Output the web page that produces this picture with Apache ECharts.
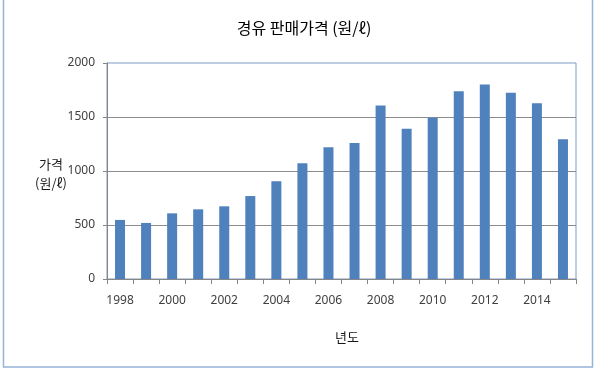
<!DOCTYPE html>
<html>
<head>
<meta charset="utf-8">
<script src="https://cdn.jsdelivr.net/npm/echarts@6/dist/echarts.min.js"></script>
<style>
html, body { margin: 0; padding: 0; background: #fff; }
#container { width: 597px; height: 380px; }
</style>
</head>
<body>
<div id="container"></div>
<script>
// 경유 판매가격 (원/ℓ), 연도별
var years = ['1998', '1999', '2000', '2001', '2002', '2003', '2004', '2005', '2006',
    '2007', '2008', '2009', '2010', '2011', '2012', '2013', '2014', '2015'];
var prices = [547, 519, 608, 645, 673, 768, 906, 1072, 1220,
    1259, 1607, 1392, 1493, 1739, 1800, 1724, 1628, 1293];
var yTicks = [0, 500, 1000, 1500, 2000];

var labelFont = 'Noto Sans, "Noto Sans CJK KR", sans-serif';
var krFont = '"Noto Sans CJK KR", sans-serif';

var myChart = echarts.init(document.getElementById('container'));
myChart.setOption({
    animation: false,
    title: [
        {
            text: '경유 판매가격 (원/ℓ)',
            left: 299,
            top: 15,
            textAlign: 'center',
            textStyle: { fontFamily: krFont, fontSize: 16, fontWeight: 'normal', color: '#000' }
        },
        {
            text: '가격\n(원/ℓ)',
            left: 46,
            top: 150,
            textAlign: 'center',
            textStyle: { fontFamily: krFont, fontSize: 13, fontWeight: 'normal', color: '#1a1a1a', lineHeight: 19 }
        },
        {
            text: '년도',
            left: 342,
            top: 326,
            textAlign: 'center',
            textStyle: { fontFamily: krFont, fontSize: 13, fontWeight: 'normal', color: '#1a1a1a' }
        }
    ],
    graphic: [
        {
            type: 'rect',
            shape: { x: 3.5, y: -5, width: 589, height: 372 },
            style: { fill: 'none', stroke: '#95b3d7', lineWidth: 1.5 },
            silent: true
        }
    ],
    grid: {
        left: 107,
        right: 21,
        top: 63,
        bottom: 101,
        show: true,
        borderColor: '#7f9bc4',
        borderWidth: 1
    },
    xAxis: {
        type: 'category',
        data: years,
        axisLine: { lineStyle: { color: '#868686' } },
        axisTick: { show: true, interval: 0, length: 5, lineStyle: { color: '#868686' } },
        axisLabel: { interval: 1, margin: 16, fontFamily: labelFont, fontSize: 12, color: '#404040' }
    },
    yAxis: {
        type: 'value',
        min: yTicks[0],
        max: yTicks[yTicks.length - 1],
        interval: 500,
        axisLine: { show: true, lineStyle: { color: '#868686' } },
        axisTick: { show: true, length: 4, lineStyle: { color: '#868686' } },
        axisLabel: {
            margin: 12, fontFamily: labelFont, fontSize: 12, color: '#404040',
            formatter: function (v) { return String(v); }
        },
        splitLine: { show: true, showMinLine: false, showMaxLine: false, lineStyle: { color: '#8c8c8c' } }
    },
    series: [
        {
            name: '경유 판매가격',
            type: 'bar',
            data: prices,
            barWidth: 10,
            itemStyle: { color: '#4f81bd' }
        }
    ]
});
</script>
</body>
</html>
